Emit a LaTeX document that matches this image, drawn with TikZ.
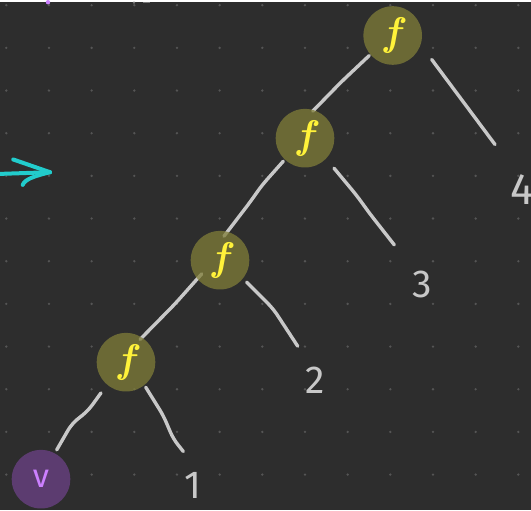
\documentclass[tikz,border=0pt]{standalone}
\usepackage{fontspec}
\newfontfamily\handfont{Fira Sans}
\usetikzlibrary{calc}
\pgfdeclarelayer{canvas}
\pgfdeclarelayer{wires}
\pgfsetlayers{canvas,wires,main}
\definecolor{bgc}{HTML}{2D2D2D}
\definecolor{dotc}{HTML}{555555}
\definecolor{wirec}{HTML}{C8C8C8}
\definecolor{fnfill}{HTML}{807E39}
\definecolor{fyel}{HTML}{FFF23A}
\definecolor{grape}{HTML}{5C3C70}
\definecolor{lilac}{HTML}{CC80FF}
\definecolor{arrowc}{HTML}{22CCCC}
\begin{document}
\begin{tikzpicture}[x=1pt,y=-1pt,
  fnode/.style={circle,fill=fnfill,fill opacity=0.75,text opacity=1,
    minimum size=58.6pt,inner sep=0pt,text=fyel,
    font=\fontsize{40}{40}\selectfont\bfseries\itshape},
  vnode/.style={circle,fill=grape,minimum size=58.6pt,inner sep=0pt,
    text=lilac,font=\handfont\fontsize{33}{33}\selectfont},
  numlabel/.style={inner sep=0pt,text=wirec,
    font=\handfont\fontsize{39}{39}\selectfont},
  wire/.style={draw=wirec,line width=3.4pt,line cap=round,line join=round,
    rounded corners=7pt},
  sketcharrow/.style={draw=arrowc,line width=4pt,line cap=round}]

% canvas with dot grid
\begin{pgfonlayer}{canvas}
  \fill[bgc] (0,0) rectangle (531,508);
  \foreach \i in {0,...,12}
    \foreach \j in {0,...,11}
      \fill[dotc] ({6.3+42.67*\i},{3+42.67*\j}) circle (1.3);
  \fill[lilac] (48,0) circle (2.2);
  \fill[dotc!80!white] (134,0.5) circle (1.2);
  \draw[dotc!80!white,line width=1.5pt] (143,0.3) -- (150,0.3);
\end{pgfonlayer}
\useasboundingbox (0,0) rectangle (531,508);

% function nodes
\node[fnode] (T) at (392.7,33.3) {f};
\node[fnode] (S) at (305,136) {f};
\node[fnode] (R) at (220,258) {f};
\node[fnode] (Q) at (126,360) {f};
\node[vnode] (V) at (41,477) {v};

% leaf labels
\node[numlabel] (n1) at (193,483) {1};
\node[numlabel] (n2) at (315,378) {2};
\node[numlabel] (n3) at (422,282) {3};
\node[numlabel,font=\handfont\fontsize{44}{44}\selectfont] (n4) at (522,187) {4};

% free ends of the leaf strokes
\coordinate (e4) at ($(n4)+(-27,-44.7)$);
\coordinate (e3) at ($(n3)+(-27.7,-39.3)$);
\coordinate (e2) at ($(n2)+(-17.3,-34)$);
\coordinate (e1) at ($(n1)+(-9.7,-33.7)$);

% hand-drawn connectors, beneath the nodes
\begin{pgfonlayer}{wires}
  \draw[wire] ($(T)+(-23.4,20)$) -- ($(T)+(-51,46)$) -- ($(S)+(7.7,-27)$);
  \draw[wire] ($(T)+(39,24)$) -- (e4);
  \draw[wire] ($(S)+(-21.7,23)$) -- ($(S)+(-43,47)$) -- ($(S)+(-55,64)$)
              -- ($(R)+(4,-24)$);
  \draw[wire] ($(S)+(29,30)$) -- ($(S)+(51.7,57.3)$) -- ($(S)+(65,75.7)$) -- (e3);
  \draw[wire] ($(R)+(-18.3,13.7)$) -- ($(R)+(-45,43.7)$) -- ($(Q)+(14,-22.7)$);
  \draw[wire] ($(R)+(26.7,22)$) -- ($(R)+(53.3,48.7)$) -- (e2);
  \draw[wire] ($(Q)+(19.7,25)$) -- ($(Q)+(37.3,53.3)$) -- ($(Q)+(47.3,76.7)$) -- (e1);
  \draw[wire] ($(Q)+(-25,30.7)$) -- ($(Q)+(-37.7,48.3)$) -- ($(Q)+(-54.3,61.7)$)
              -- ($(V)+(15.7,-29.3)$);
\end{pgfonlayer}

% cyan arrow at the left edge
\coordinate (tail) at (0,171.7);
\coordinate (tip) at (50,170);
\coordinate (barbU) at (13.3,157.3);
\coordinate (barbL) at (22.7,182.7);
\draw[sketcharrow] (tail) -- (tip);
\draw[sketcharrow] (barbU) -- (tip);
\draw[sketcharrow] (tip) .. controls (34,174) and (25,177) .. (barbL);
\end{tikzpicture}
\end{document}
